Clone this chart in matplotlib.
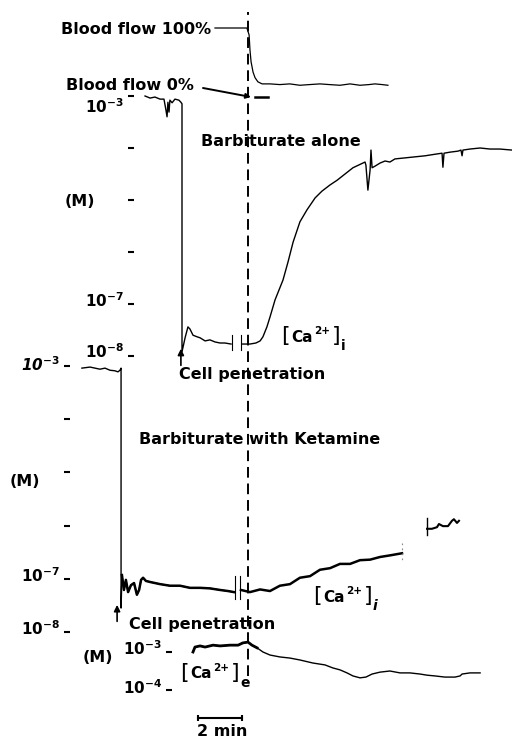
import matplotlib
matplotlib.use("Agg")
import matplotlib.pyplot as plt
from matplotlib.transforms import ScaledTranslation

plt.rcParams['font.family'] = ['DejaVu Sans']
plt.rcParams['mathtext.fontset'] = 'dejavusans'

# ------------------------------------------------------------------ data
# time in minutes, t = 0 at blood-flow stop (dashed line)
# Blood flow (% of control)
flow_t = [-1.50, -0.05, 0.05, 0.09, 0.14, 0.23, 0.32, 0.45, 0.64, 1.00, 1.45, 1.90,
          2.36, 2.80, 3.27, 3.70, 4.18, 4.64, 5.09, 5.50, 5.77, 6.10, 6.36]
flow_pct = [100, 100, 90, 68, 51, 36, 28, 22, 19, 19, 18, 19,
            17, 18, 19, 18, 17, 19, 17, 18, 19, 18, 17]
flow_zero_t = [0.32, 0.91]
flow_zero_pct = [0, 0]

# Barbiturate alone: log10 [Ca2+] (M)
ba1_t = [-4.68, -4.45, -4.23, -4.00, -3.82, -3.73, -3.68, -3.64, -3.59, -3.55,
         -3.45, -3.32, -3.14, -3.05, -3.00, -3.00, -2.86, -2.73, -2.64, -2.50,
         -2.32, -2.18, -1.95, -1.73, -1.50, -1.27, -1.05, -0.77]
ba1_log = [-3.00, -3.04, -3.02, -3.06, -3.06, -3.27, -3.40, -3.12, -3.31, -3.08,
           -3.13, -3.06, -3.08, -3.12, -3.15, -7.92, -7.65, -7.44, -7.48, -7.60,
           -7.63, -7.65, -7.71, -7.69, -7.73, -7.75, -7.75, -7.77]
ba2_t = [-0.27, 0.09, 0.36, 0.55, 0.68, 0.86, 1.00, 1.23, 1.59, 1.82,
         2.05, 2.36, 2.68, 3.05, 3.36, 3.73, 4.05, 4.41, 4.77, 5.32,
         5.36, 5.45, 5.55, 5.59, 5.64, 5.77, 6.00, 6.23, 6.45, 6.68,
         7.14, 7.59, 8.05, 8.50, 8.82, 8.86, 8.91, 9.18, 9.55, 9.68,
         9.73, 9.77, 10.09, 10.55, 11.00, 11.45, 12.00]
ba2_log = [-7.77, -7.77, -7.75, -7.71, -7.63, -7.44, -7.25, -6.92, -6.54, -6.19,
           -5.81, -5.42, -5.19, -4.96, -4.83, -4.71, -4.62, -4.50, -4.38, -4.27,
           -4.33, -4.81, -4.42, -4.04, -4.38, -4.35, -4.29, -4.25, -4.27, -4.21,
           -4.19, -4.17, -4.15, -4.12, -4.10, -4.37, -4.10, -4.08, -4.06, -4.04,
           -4.15, -4.04, -4.02, -4.00, -4.02, -4.02, -4.04]
ba_break_t = [-0.73, -0.32]
ba_break_log = [-7.60, -7.88]
ba_pen_t = -3.05

# Barbiturate with ketamine: log10 [Ca2+]i (M)
ka1_t = [-7.55, -7.18, -6.73, -6.50, -6.27, -6.05, -5.91, -5.82, -5.77, -5.77,
         -5.73, -5.64, -5.55, -5.45, -5.32, -5.18, -5.05, -4.95, -4.86, -4.77,
         -4.64, -4.45, -4.00, -3.55, -3.09, -2.64, -2.18, -1.73, -1.27, -0.91, -0.64]
ka1_log = [-3.04, -3.02, -3.06, -3.04, -3.08, -3.09, -3.11, -3.08, -3.04, -7.55,
           -6.93, -7.21, -7.02, -7.25, -7.12, -7.08, -7.30, -7.21, -7.02, -6.98,
           -7.04, -7.06, -7.10, -7.13, -7.13, -7.17, -7.17, -7.18, -7.21, -7.23, -7.25]
ka2_t = [-0.32, 0.09, 0.55, 1.00, 1.45, 1.91, 2.36, 2.82, 3.27, 3.73,
         4.18, 4.64, 5.09, 5.55, 6.00, 6.45, 7.00]
ka2_log = [-7.21, -7.25, -7.20, -7.23, -7.13, -7.10, -6.98, -6.95, -6.83, -6.80,
           -6.72, -6.72, -6.65, -6.64, -6.59, -6.56, -6.52]
ka3_t = [8.14, 8.36, 8.59, 8.68, 8.86, 9.09, 9.27, 9.36, 9.50, 9.59]
ka3_log = [-6.06, -6.06, -6.03, -5.97, -6.01, -6.01, -5.91, -5.88, -5.95, -5.91]
ka_break_t = [-0.59, -0.36]
ka_break_log = [-6.95, -7.38]
ka_pen_t = -5.95

# Extracellular [Ca2+]e: log10 (M)
ce_t = [-2.50, -2.41, -2.18, -1.95, -1.59, -1.27, -0.82, -0.45, -0.23, 0.00,
        0.18, 0.41, 0.68, 1.00, 1.45, 1.91, 2.36, 2.95, 3.50, 3.86,
        4.18, 4.50, 4.77, 5.09, 5.36, 5.64, 6.00, 6.45, 6.91, 7.36,
        7.82, 8.14, 8.50, 8.95, 9.41, 9.64, 9.73, 10.09, 10.55]
ce_log = [-3.00, -2.87, -2.84, -2.87, -2.82, -2.84, -2.82, -2.82, -2.76, -2.74,
          -2.82, -2.89, -3.00, -3.08, -3.13, -3.16, -3.21, -3.29, -3.34, -3.42,
          -3.47, -3.55, -3.63, -3.68, -3.66, -3.58, -3.53, -3.50, -3.55, -3.55,
          -3.58, -3.61, -3.63, -3.66, -3.66, -3.63, -3.58, -3.55, -3.55]

scale_bar_min = 2
ba_ticks = [-3, -4, -5, -6, -7, -8]
ka_ticks = [-3, -4, -5, -6, -7, -8]
ce_ticks = [-3, -4]

# ------------------------------------------------------------------ layout
W, H = 512, 743
T0_PX, PX_PER_MIN = 248, 22.0
XLIM = (-T0_PX / PX_PER_MIN, (W - T0_PX) / PX_PER_MIN)

fig = plt.figure(figsize=(W / 100, H / 100), dpi=100)
fig.patch.set_facecolor('white')


def panel(ref_val, ref_px, px_per_unit):
    ax = fig.add_axes([0, 0, 1, 1])
    ax.set_xlim(*XLIM)
    ax.set_ylim(ref_val - (H - ref_px) / px_per_unit, ref_val + ref_px / px_per_unit)
    ax.patch.set_visible(False)
    for s in ax.spines.values():
        s.set_visible(False)
    ax.set_xticks([])
    ax.set_yticks([])
    return ax


def log_ticks(ax, spine_px, ticks, labels, dys):
    sp = ax.spines['left']
    sp.set_visible(True)
    sp.set_color('none')
    sp.set_position(('data', (spine_px - T0_PX) / PX_PER_MIN))
    ax.set_yticks(ticks)
    ax.set_yticklabels(labels)
    ax.tick_params(axis='y', direction='out', length=4.5, width=1.5,
                   pad=2.5, labelsize=11, color='black')
    for lab, dy in zip(ax.get_yticklabels(), dys):
        lab.set_transform(lab.get_transform() +
                          ScaledTranslation(0, dy / 100, fig.dpi_scale_trans))


def lbl(v):
    return r'$\mathbf{10^{%d}}$' % v


LW = 1.0
K = 'black'

# ---- blood flow panel
ax1 = panel(0, 97, 0.69)
ax1.plot(flow_t, flow_pct, color=K, lw=0.9)
ax1.plot(flow_zero_t, flow_zero_pct, color=K, lw=1.8)
ax1.axvline(0, ymin=1 - 676 / H, ymax=1 - 12 / H, color=K, lw=1.4,
            dashes=(5.5, 3.0))

# ---- barbiturate alone panel
ax2 = panel(-3, 96, 52.0)
ax2.plot(ba1_t, ba1_log, color=K, lw=LW)
ax2.plot(ba2_t, ba2_log, color=K, lw=LW)
for bt in ba_break_t:
    ax2.plot([bt, bt], ba_break_log, color=K, lw=0.8)
ax2.annotate('', xy=(ba_pen_t, -7.86), xytext=(ba_pen_t, -8.18),
             arrowprops=dict(arrowstyle='-|>', color=K, lw=1.2,
                             mutation_scale=9, shrinkA=0, shrinkB=0))
log_ticks(ax2, 134, ba_ticks, [lbl(ba_ticks[0]), '', '', '', lbl(-7), lbl(-8)],
          [-9, 0, 0, 0, 5, 6])

# ---- barbiturate with ketamine panel
ax3 = panel(-3, 366, 53.2)
ax3.plot(ka1_t, ka1_log, color=K, lw=LW)
ax3.plot(ka1_t[10:], ka1_log[10:], color=K, lw=1.8)
ax3.plot(ka2_t, ka2_log, color=K, lw=1.8)
ax3.plot(ka3_t, ka3_log, color=K, lw=1.5)
for bt in ka_break_t:
    ax3.plot([bt, bt], ka_break_log, color=K, lw=0.8)
ax3.plot([ka2_t[-1], ka2_t[-1]], [-6.33, -6.70], color='#888888', lw=0.8,
         dashes=(1.5, 3))
ax3.plot([ka3_t[0], ka3_t[0]], [-5.86, -6.18], color=K, lw=1.0)
ax3.annotate('', xy=(ka_pen_t, -7.49), xytext=(ka_pen_t, -7.80),
             arrowprops=dict(arrowstyle='-|>', color=K, lw=1.2,
                             mutation_scale=9, shrinkA=0, shrinkB=0))
log_ticks(ax3, 70, ka_ticks,
          [r'$\mathbfit{10}^{\mathbf{-3}}$', '', '', '', lbl(-7), lbl(-8)],
          [3, 0, 0, 0, 5, 5])

# ---- extracellular panel
ax4 = panel(-3, 652, 38.0)
ax4.plot(ce_t, ce_log, color=K, lw=LW)
ax4.plot(ce_t[:12], ce_log[:12], color=K, lw=2.0)
sb_y = -4.74
sb_x0 = -2.27
ax4.plot([sb_x0, sb_x0 + scale_bar_min], [sb_y, sb_y], color=K, lw=1.5,
         marker='|', markersize=5, markeredgewidth=1.5)
log_ticks(ax4, 172, ce_ticks, [lbl(-3), lbl(-4)], [5, 4])

# ---- text overlay in pixel units
axt = fig.add_axes([0, 0, 1, 1])
axt.set_xlim(0, W)
axt.set_ylim(H, 0)
axt.axis('off')
FS = 11.5
TW = dict(fontsize=FS, fontweight='bold', va='center')
axt.text(211, 29, 'Blood flow 100%', ha='right', **TW)
axt.text(194, 86, 'Blood flow 0%', ha='right', **TW)
axt.annotate('', xy=(251, 97), xytext=(203, 88),
             arrowprops=dict(arrowstyle='-|>', color=K, lw=1.4,
                             mutation_scale=7, shrinkA=0, shrinkB=0))
axt.text(281, 142, 'Barbiturate alone', ha='center', **TW)
axt.text(80, 201, '(M)', ha='center', **TW)
axt.text(252, 375, 'Cell penetration', ha='center', **TW)
axt.text(260, 440, 'Barbiturate with Ketamine', ha='center', **TW)
axt.text(25, 481, '(M)', ha='center', **TW)
axt.text(202, 625, 'Cell penetration', ha='center', **TW)
axt.text(98, 658, '(M)', ha='center', **TW)
axt.text(222, 731, '2 min', ha='center', **TW)


def ca_label(x, y, sub, sub_style='normal'):
    axt.text(x, y, '[', fontsize=16, ha='left', va='center')
    axt.text(x + 10, y + 1, 'Ca', ha='left', fontsize=11, fontweight='bold',
             va='center')
    axt.text(x + 33, y - 5, '2+', fontsize=7.5, fontweight='bold', ha='left',
             va='center')
    axt.text(x + 51, y, ']', fontsize=16, ha='left', va='center')
    axt.text(x + 60, y + 10, sub, fontsize=10, fontweight='bold', ha='left',
             va='center', fontstyle=sub_style)


ca_label(281, 336, 'i')
ca_label(313, 596, 'i', 'italic')
ca_label(180, 673, 'e')

fig.savefig('out.png', dpi=100, facecolor='white')
